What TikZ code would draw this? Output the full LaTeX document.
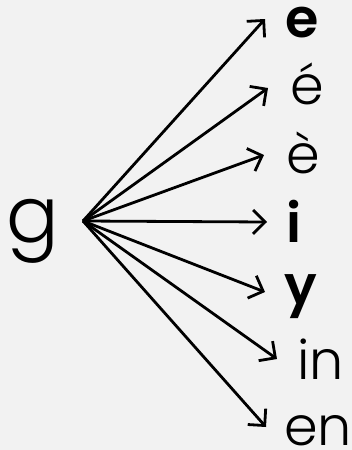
\documentclass[tikz,border=0pt]{standalone}
\usepackage{fontspec}
\setmainfont{Poppins Light}[BoldFont={Poppins SemiBold}]
\usetikzlibrary{arrows.meta}
\begin{document}
\begin{tikzpicture}[x=1pt,y=-1pt,
  lbl/.style={inner sep=0pt,anchor=base west,font=\fontsize{54}{60}\selectfont},
  blbl/.style={lbl,font=\fontsize{54}{60}\selectfont\bfseries},
  arr/.style={line width=2.8pt,-{Straight Barb[length=12pt,width=24pt,line width=2.8pt]}}]
\fill[fill={rgb,255:red,242;green,242;blue,242}] (0,0) rectangle (352,450);
\useasboundingbox (0,0) rectangle (352,450);
\node[lbl,font=\fontsize{78}{80}\selectfont] (g) at (6,242) {g};
\coordinate (o) at (83,221);
\node[blbl] (e) at (285,37) {e};
\node[lbl] (e1) at (290,104) {é};
\node[lbl] (e2) at (286,173) {è};
\node[blbl] (i) at (286,242) {i};
\node[blbl] (y) at (284,304) {y};
\node[lbl] (in) at (297,379) {in};
\node[lbl] (en) at (284,445) {en};
\coordinate (te) at (265,19);
\coordinate (te1) at (268,88);
\coordinate (te2) at (264,155);
\coordinate (ti) at (267,222);
\coordinate (ty) at (265,292);
\coordinate (tin) at (277,359);
\coordinate (ten) at (266,427);
\foreach \t in {te,te1,te2,ti,ty,tin,ten} \draw[arr] (o) -- (\t);
\end{tikzpicture}
\end{document}
